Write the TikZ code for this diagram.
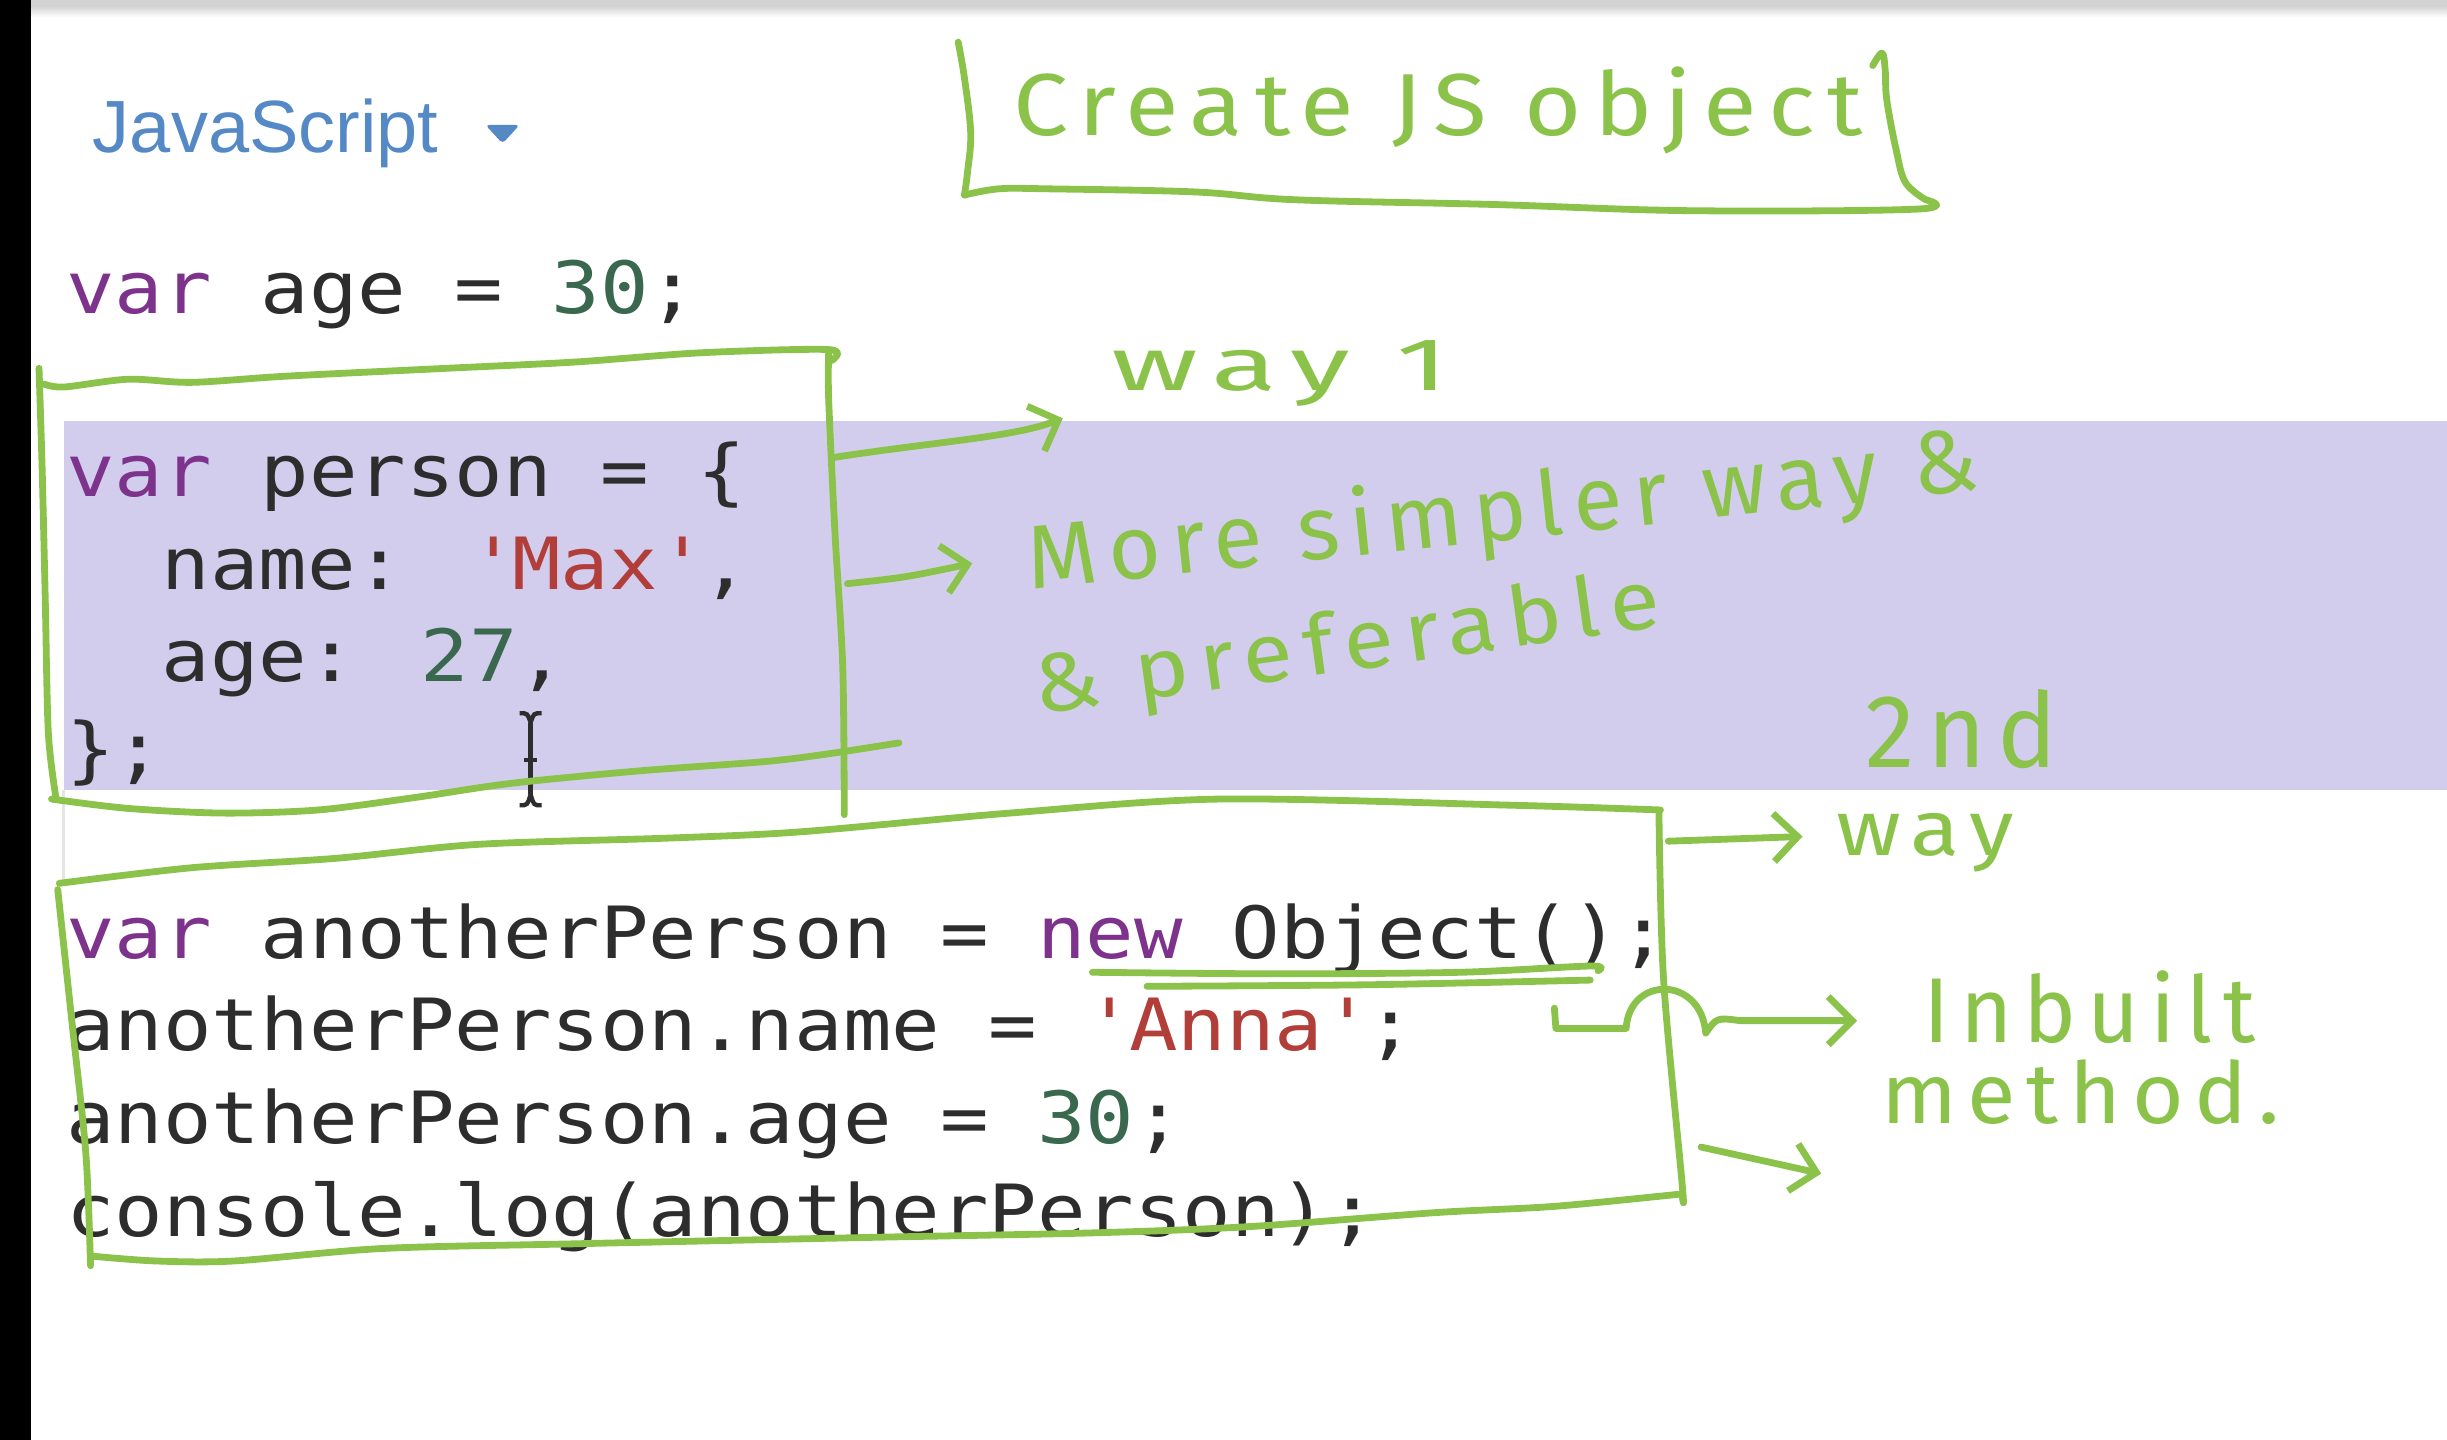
\documentclass[tikz,border=0pt]{standalone}
\usepackage{fontspec}
\usepackage{graphicx}
\usetikzlibrary{arrows.meta}
\setmainfont{Liberation Sans}
\newfontfamily\codefont[FakeStretch=1.12]{DejaVu Sans Mono}
\newfontfamily\handfont[LetterSpace=12]{Fira Sans}
\definecolor{penc}{RGB}{139,195,74}
\definecolor{bandc}{RGB}{211,205,237}
\definecolor{kwc}{RGB}{125,50,140}
\definecolor{strc}{RGB}{178,62,58}
\definecolor{numc}{RGB}{58,104,78}
\definecolor{codec}{RGB}{45,45,45}
\definecolor{jsblue}{RGB}{84,137,198}
\newlength{\pxu}
\setlength{\pxu}{0.39015pt}
\newcommand{\kw}[1]{\textcolor{kwc}{#1}}
\newcommand{\st}[1]{\textcolor{strc}{#1}}
\newcommand{\nm}[1]{\textcolor{numc}{#1}}
\newcommand{\q}{\textquotesingle}
\newcommand{\hw}[3]{\resizebox{#1\pxu}{#2\pxu}{\handfont #3}}
\tikzset{
  codeline/.style={anchor=base west, inner sep=0pt, text=codec, font=\codefont\fontsize{18}{18}\selectfont},
  hand/.style={anchor=base west, inner sep=0pt, text=penc},
  penline/.style={draw=penc, line width=1.7pt, line cap=round, line join=round},
  parrow/.style={penline, -{Straight Barb[length=6pt,width=12pt]}},
}
\begin{document}
\begin{tikzpicture}[x=0.39015pt, y=-0.39015pt]
\useasboundingbox (0,0) rectangle (1568,922.7);
% background
\fill[white] (0,0) rectangle (1568,922.7);
\fill[black] (0,0) rectangle (20,922.7);
\fill[gray!35] (20,0) rectangle (1568,5);
\shade[top color=gray!30, bottom color=white] (20,5) rectangle (1568,11);
% highlight band
\fill[bandc] (41,270) rectangle (1568,506);
\draw[gray!20, line width=0.8pt] (40.5,506) -- (40.5,566);
% header
\node[anchor=base west, inner sep=0pt, text=jsblue, font=\fontsize{18.5}{18.5}\selectfont] (lang) at (59,98) {JavaScript};
\fill[jsblue, rounded corners=1pt] (311,80) -- (333,80) -- (322,92) -- cycle;
% code
\node[codeline] (l0) at (42,201) {\kw{var} age = \nm{30};};
\node[codeline] (l1) at (42,318) {\kw{var} person = \{};
\node[codeline] (l2) at (103,378) {name: \st{\q Max\q},};
\node[codeline] (l3) at (103,437) {age: \nm{27},};
\node[codeline] (l4) at (42,496) {\};};
\node[codeline] (l5) at (42,614) {\kw{var} anotherPerson = \kw{new} Object();};
\node[codeline] (l6) at (42,673) {anotherPerson.name = \st{\q Anna\q};};
\node[codeline] (l7) at (42,733) {anotherPerson.age = \nm{30};};
\node[codeline] (l8) at (42,792) {console.log(anotherPerson);};
% text cursor
\begin{scope}[draw=codec, line width=1.1pt]
\draw (333,457) .. controls (338,457) .. (340,463) .. controls (342,457) .. (347,457);
\draw (340,463) -- (340,509);
\draw (333,516) .. controls (338,516) .. (340,509) .. controls (342,516) .. (347,516);
\draw (336,487) -- (344,487);
\end{scope}
% title box
\draw[penline] plot[smooth, tension=0.6] coordinates {(614,27) (618,50) (622,85) (620,110) (618,125)};
\draw[penline] plot[smooth, tension=0.6] coordinates {(618,125) (640,121) (672,121) (766,123) (830,128) (956,131) (1083,135) (1228,134) (1234,128)};
\draw[penline] plot[smooth, tension=0.6] coordinates {(1200,42) (1206,34) (1208,45) (1209,64) (1215,96) (1221,117) (1234,128)};
\node[hand] (title) at (649,87) {\hw{544}{44}{Create JS object}};
% box 1 (object literal)
\draw[penline] plot[smooth, tension=0.5] coordinates {(28,246) (41,248) (82,243) (123,245) (184,241) (286,236) (368,232) (450,226) (531,224) (533,231)};
\draw[penline] plot[smooth, tension=0.5] coordinates {(531,226) (531,256) (535,341) (540,427) (541,522)};
\draw[penline] plot[smooth, tension=0.5] coordinates {(25,236) (27,300) (29,384) (31,470) (36,512)};
\draw[penline] plot[smooth, tension=0.5] coordinates {(33,512) (82,518) (143,521) (204,519) (266,511) (327,502) (409,494) (490,488) (531,483) (576,476)};
% box 2 (new Object)
\draw[penline] plot[smooth, tension=0.5] coordinates {(38,566) (123,556) (215,550) (307,541) (429,537) (513,533) (647,521) (782,512) (970,516) (1064,519)};
\draw[penline] plot[smooth, tension=0.5] coordinates {(1063,520) (1066,628) (1078,760) (1078,767)};
\draw[penline] plot[smooth, tension=0.5] coordinates {(1078,765) (996,773) (920,777) (800,786) (700,790) (552,793) (368,797) (245,800) (150,808) (100,808) (60,805)};
\draw[penline] plot[smooth, tension=0.5] coordinates {(37,570) (46,654) (55,739) (58,811)};
% underline of new Object()
\draw[penline] plot[smooth, tension=0.5] coordinates {(700,623) (818,624) (936,623) (1019,619) (1024,622)};
\draw[penline] plot[smooth, tension=0.5] coordinates {(735,632) (877,631) (1019,628)};
% arrow anchors
\coordinate (a1s) at (535,293);
\coordinate (a1e) at (681,268);
\coordinate (a2s) at (543,374);
\coordinate (a2e) at (623,361);
\coordinate (a3s) at (1069,539);
\coordinate (a3e) at (1155,536);
\coordinate (a4s) at (996,646);
\coordinate (a4e) at (1190,654);
\coordinate (a5s) at (1090,735);
\coordinate (a5e) at (1167,752);
% arrows
\draw[parrow] (a1s) .. controls (600,283) and (650,280) .. (a1e);
\draw[parrow] (a2s) .. controls (580,370) .. (a2e);
\draw[parrow] (a3s) -- (a3e);
\draw[parrow] (a4s) -- (997,659) -- (1042,659) .. controls (1044,625) and (1090,625) .. (1093,662) .. controls (1100,652) .. (1115,654) -- (a4e);
\draw[parrow] (a5s) -- (a5e);
% annotations
\node[hand] (w1) at (712,250) {\hw{216}{32}{way 1}};
\node[hand, rotate=6] (ms) at (660,378) {\hw{612}{45}{More simpler way \&}};
\node[hand, rotate=8] (pr) at (664,458) {\hw{405}{40}{\& preferable}};
\node[hand] (nd) at (1195,492) {\hw{123}{50}{2nd}};
\node[hand] (w2) at (1176,548) {\hw{114}{27}{way}};
\node[hand] (ib) at (1232,668) {\hw{213}{46}{Inbuilt}};
\node[hand] (me) at (1205,720) {\hw{255}{41}{method.}};
\end{tikzpicture}
\end{document}
